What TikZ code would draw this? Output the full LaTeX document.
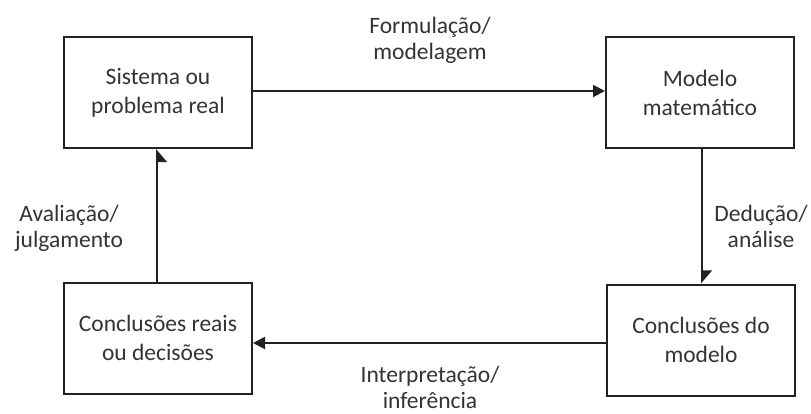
\documentclass[tikz,border=0pt]{standalone}
\usepackage{fontspec}
\setmainfont{Carlito}
\usetikzlibrary{arrows.meta}
\definecolor{txt}{HTML}{333333}
\definecolor{ln}{HTML}{222222}
\begin{document}
\begin{tikzpicture}[x=1pt,y=-1pt,
  box/.style={draw=ln,line width=2pt,minimum width=188pt,minimum height=111pt,align=center,inner sep=0pt,text=txt,font=\fontsize{23.5}{29}\selectfont},
  lbl/.style={align=center,text=txt,font=\fontsize{23.5}{26}\selectfont,inner sep=0pt},
  conn/.style={draw=ln,line width=2pt},
  full/.style={-{Triangle[length=12pt,width=12pt]}},
  harp/.style={-{Triangle[harpoon,length=12pt,width=20pt]}},
  harps/.style={-{Triangle[harpoon,swap,length=12pt,width=20pt]}}]
\useasboundingbox (0,0) rectangle (811,414);
\node[box] (sis) at (158,92.5) {Sistema ou\\problema real};
\node[box] (mod) at (700,92.5) {Modelo\\matemático};
\node[box] (cr) at (158,338) {Conclusões reais\\ou decisões};
\node[box] (cm) at (701,340) {Conclusões do\\modelo};
\draw[conn,full] (sis.east |- 0,91) -- (mod.west |- 0,91);
\draw[conn,harp] (mod.south -| 702,0) -- (cm.north -| 702,0);
\draw[conn,full] (cm.west |- 0,343) -- (cr.east |- 0,343);
\draw[conn,harps] (cr.north -| 157,0) -- (sis.south -| 157,0);
\node[lbl] (l1) at (430,40) {Formulação/\\modelagem};
\node[lbl] (l2) at (69,228) {Avaliação/\\julgamento};
\node[lbl] (l3) at (761,226) {Dedução/\\análise};
\node[lbl] (l4) at (430,387) {Interpretação/\\inferência};
\end{tikzpicture}
\end{document}
